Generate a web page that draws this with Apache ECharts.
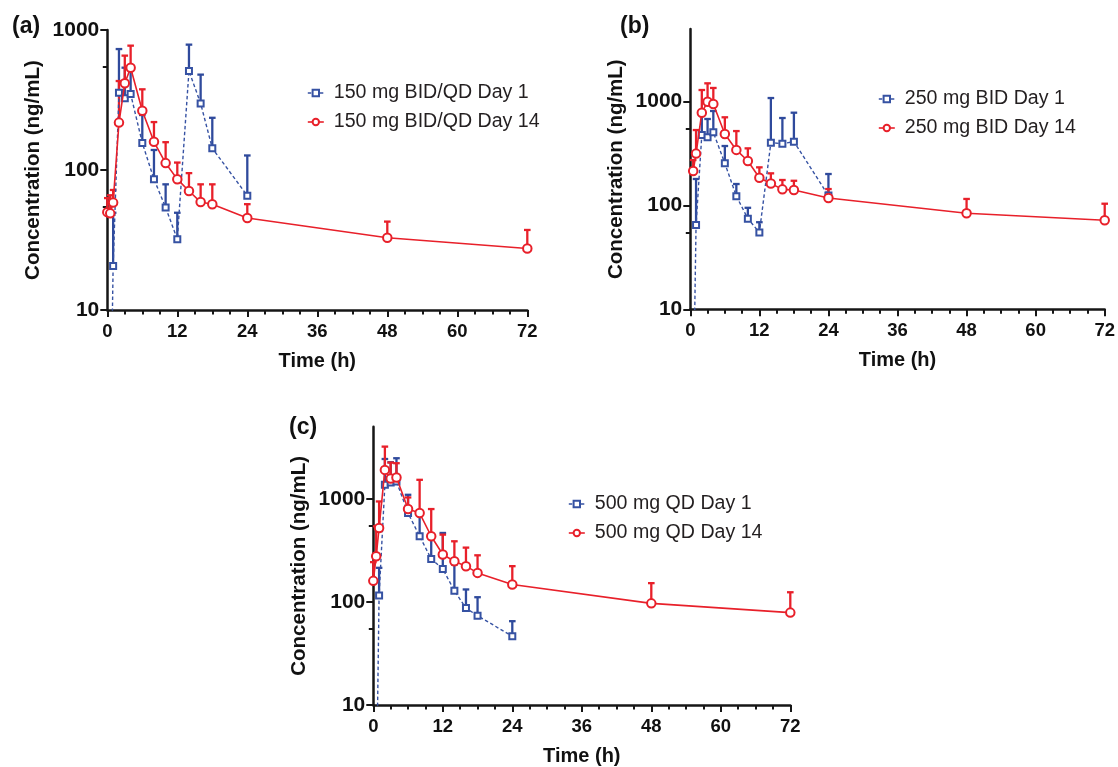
<!DOCTYPE html>
<html>
<head>
<meta charset="utf-8">
<script src="https://cdn.jsdelivr.net/npm/echarts@6/dist/echarts.min.js"></script>
<style>
html,body{margin:0;padding:0;background:#fff;}
#chart{width:1118px;height:767px;}
</style>
</head>
<body>
<div id="chart"></div>
<script>
// ---------- data ----------
const xTickLabels = [0, 12, 24, 36, 48, 60, 72];
const yTickLabels = [10, 100, 1000];
const yMinorTicks = [55, 550];

const timesDay1  = [0.5, 1, 2, 3, 4, 6, 8, 10, 12, 14, 16, 18, 24];
const timesDay14A = [0, 0.5, 1, 2, 3, 4, 6, 8, 10, 12, 14, 16, 18, 24, 48, 72];
const timesDay14B = [0.5, 1, 2, 3, 4, 6, 8, 10, 12, 14, 16, 18, 24, 48, 72];
const timesDay14C = [0, 0.5, 1, 2, 3, 4, 6, 8, 10, 12, 14, 16, 18, 24, 48, 72];

// (a) 150 mg BID/QD
const aDay1Mean   = [1, 20.6, 357, 325, 349, 156, 86, 54, 32, 510, 299, 143, 65.6];
const aDay1Upper  = [null, 49.5, 731, 538, 545, 247, 139, 79, 49.5, 786, 480, 236, 127];
const aDay14Mean  = [50, 49, 58.5, 218, 416, 538, 265, 159, 112, 86, 70.8, 59, 57, 45.4, 32.8, 27.5];
const aDay14Upper = [63, 66, 72, 432, 656, 773, 377, 220, 158, 113, 95, 79, 79, 57, 42.8, 37.3];

// (b) 250 mg BID
const bDay1Mean   = [1, 64.9, 477, 454, 507, 255, 123, 74.7, 55, 403, 394, 412, 124.6];
const bDay1Upper  = [null, 180, 813, 681, 813, 374, 161, 95, 69, 1084, 696, 783, 201];
const bDay14Mean  = [215, 316, 783, 1000, 950, 489, 343, 268, 185, 163, 143, 141, 118, 84.2, 72];
const bDay14Upper = [274, 533, 1295, 1502, 1355, 707, 521, 355, 233, 204, 176, 173, 144, 115.6, 104];

// (c) 500 mg QD
const cDay1Mean   = [1, 115.6, 1365, 1438, 1470, 728, 433, 261, 209, 128, 87, 73.5, 46.4];
const cDay1Upper  = [null, 214, 2431, 2261, 2473, 1093, 755, 450, 466, 230, 132, 111, 65];
const cDay14Mean  = [160, 277, 521, 1905, 1571, 1606, 795, 727, 433, 288, 248, 222, 191, 147.6, 96.8, 78.7];
const cDay14Upper = [243, 541, 942, 3205, 2244, 2213, 1030, 1527, 795, 449, 387, 336, 283, 222, 152, 124];

const panels = [
  {label:'(a)', labelPos:[12, 28], grid:{left:107.3, top:30, width:420, height:280}, yMax:1000,
   names:['150 mg BID/QD Day 1','150 mg BID/QD Day 14'], legendPos:[307, 83],
   d1:[timesDay1, aDay1Mean, aDay1Upper], d14:[timesDay14A, aDay14Mean, aDay14Upper]},
  {label:'(b)', labelPos:[620, 28], grid:{left:690.3, top:29.1, width:417, height:280.2}, yMax:5000,
   names:['250 mg BID Day 1','250 mg BID Day 14'], legendPos:[878, 89],
   d1:[timesDay1, bDay1Mean, bDay1Upper], d14:[timesDay14B, bDay14Mean, bDay14Upper]},
  {label:'(c)', labelPos:[289, 429], grid:{left:373.3, top:426.7, width:417, height:279.3}, yMax:5000,
   names:['500 mg QD Day 1','500 mg QD Day 14'], legendPos:[568, 494],
   d1:[timesDay1, cDay1Mean, cDay1Upper], d14:[timesDay14C, cDay14Mean, cDay14Upper]}
];

const BLUE = '#3652a3', BLUE_BAR = '#2f4a9c', RED = '#e8202a';
const FONT = '"Liberation Sans", Arial, Helvetica, sans-serif';
const AX = '#161616';

function errRender(color) {
  return function (params, api) {
    const x = api.value(0), m = api.value(1), u = api.value(2);
    const p0 = api.coord([x, m]);
    const p1 = api.coord([x, u]);
    const st = {stroke: color, lineWidth: 2.3};
    return {type: 'group', children: [
      {type: 'line', shape: {x1: p0[0], y1: p0[1], x2: p1[0], y2: p1[1]}, style: st},
      {type: 'line', shape: {x1: p1[0] - 3.3, y1: p1[1], x2: p1[0] + 3.3, y2: p1[1]}, style: st}
    ]};
  };
}

function lineData(t, m) {
  return t.map((v, i) => (m[i] < 10 ? {value: [v, m[i]], symbol: 'none'} : [v, m[i]]));
}
function errData(t, m, u) {
  const out = [];
  t.forEach((v, i) => { if (u[i] != null && m[i] >= 10) out.push([v, m[i], u[i]]); });
  return out;
}

const option = {animation: false, backgroundColor: '#fff',
  grid: [], xAxis: [], yAxis: [], series: [], legend: [], graphic: []};

panels.forEach((p, i) => {
  option.grid.push(Object.assign({containLabel: false}, p.grid));
  option.xAxis.push({
    type: 'value', gridIndex: i, min: 0, max: 72, interval: 12,
    name: 'Time (h)', nameLocation: 'middle', nameGap: 41,
    nameTextStyle: {fontFamily: FONT, fontWeight: 'bold', fontSize: 20, color: '#111'},
    axisLine: {lineStyle: {color: AX, width: 2.5}},
    axisTick: {length: 7, lineStyle: {color: AX, width: 2}},
    minorTick: {show: true, splitNumber: 4, length: 4.5, lineStyle: {color: AX, width: 2}},
    splitLine: {show: false},
    axisLabel: {margin: 12, fontFamily: FONT, fontWeight: 'bold', fontSize: 18.5, color: '#111',
      customValues: xTickLabels}
  });
  option.yAxis.push({
    type: 'log', logBase: 10, gridIndex: i, min: 10, max: p.yMax, position: 'left',
    name: 'Concentration (ng/mL)', nameLocation: 'middle', nameGap: 63,
    nameTextStyle: {fontFamily: FONT, fontWeight: 'bold', fontSize: 20.5, color: '#111'},
    axisLine: {show: true, lineStyle: {color: AX, width: 2.5}},
    axisTick: {show: true, length: 7, lineStyle: {color: AX, width: 2}, customValues: yTickLabels},
    splitLine: {show: false},
    axisLabel: {margin: 8, fontFamily: FONT, fontWeight: 'bold', fontSize: 21, color: '#111',
      customValues: yTickLabels, formatter: v => String(Math.round(v))}
  });
  option.yAxis.push({
    type: 'log', logBase: 10, gridIndex: i, min: 10, max: p.yMax, position: 'left',
    axisLine: {show: false},
    axisTick: {show: true, length: 4.5, lineStyle: {color: AX, width: 2}, customValues: yMinorTicks},
    splitLine: {show: false},
    axisLabel: {show: false}
  });
  const yIdx = i * 2;
  option.series.push({
    type: 'custom', name: p.names[0] + ' SD', xAxisIndex: i, yAxisIndex: yIdx, z: 1,
    renderItem: errRender(BLUE_BAR), encode: {x: 0, y: [1, 2]},
    data: errData(p.d1[0], p.d1[1], p.d1[2])
  });
  option.series.push({
    type: 'custom', name: p.names[1] + ' SD', xAxisIndex: i, yAxisIndex: yIdx, z: 1,
    renderItem: errRender(RED), encode: {x: 0, y: [1, 2]},
    data: errData(p.d14[0], p.d14[1], p.d14[2])
  });
  option.series.push({
    type: 'line', name: p.names[0], xAxisIndex: i, yAxisIndex: yIdx, z: 3,
    symbol: 'emptyRect', symbolSize: 6, clip: true,
    lineStyle: {color: BLUE, width: 1.4, type: [3.5, 2.5]},
    itemStyle: {color: BLUE, borderColor: BLUE, borderWidth: 1.4},
    data: lineData(p.d1[0], p.d1[1])
  });
  option.series.push({
    type: 'line', name: p.names[1], xAxisIndex: i, yAxisIndex: yIdx, z: 4,
    symbol: 'emptyCircle', symbolSize: 8.5, clip: true,
    lineStyle: {color: RED, width: 1.6},
    itemStyle: {color: RED, borderColor: RED, borderWidth: 1.4},
    data: lineData(p.d14[0], p.d14[1])
  });
  option.legend.push({
    data: p.names, orient: 'vertical', left: p.legendPos[0], top: p.legendPos[1],
    itemWidth: 16, itemHeight: 8, itemGap: 9, selectedMode: false, padding: 0,
    lineStyle: {width: 1.6},
    textStyle: {fontFamily: FONT, fontSize: 19.6, color: '#231f20', padding: [0, 0, 0, 5]}
  });
  option.graphic.push({
    type: 'text', left: p.labelPos[0], top: p.labelPos[1] - 13,
    style: {text: p.label, font: 'bold 23px ' + FONT, fill: '#111'}
  });
});

const chart = echarts.init(document.getElementById('chart'), null, {renderer: 'canvas'});
chart.setOption(option);
</script>
</body>
</html>
